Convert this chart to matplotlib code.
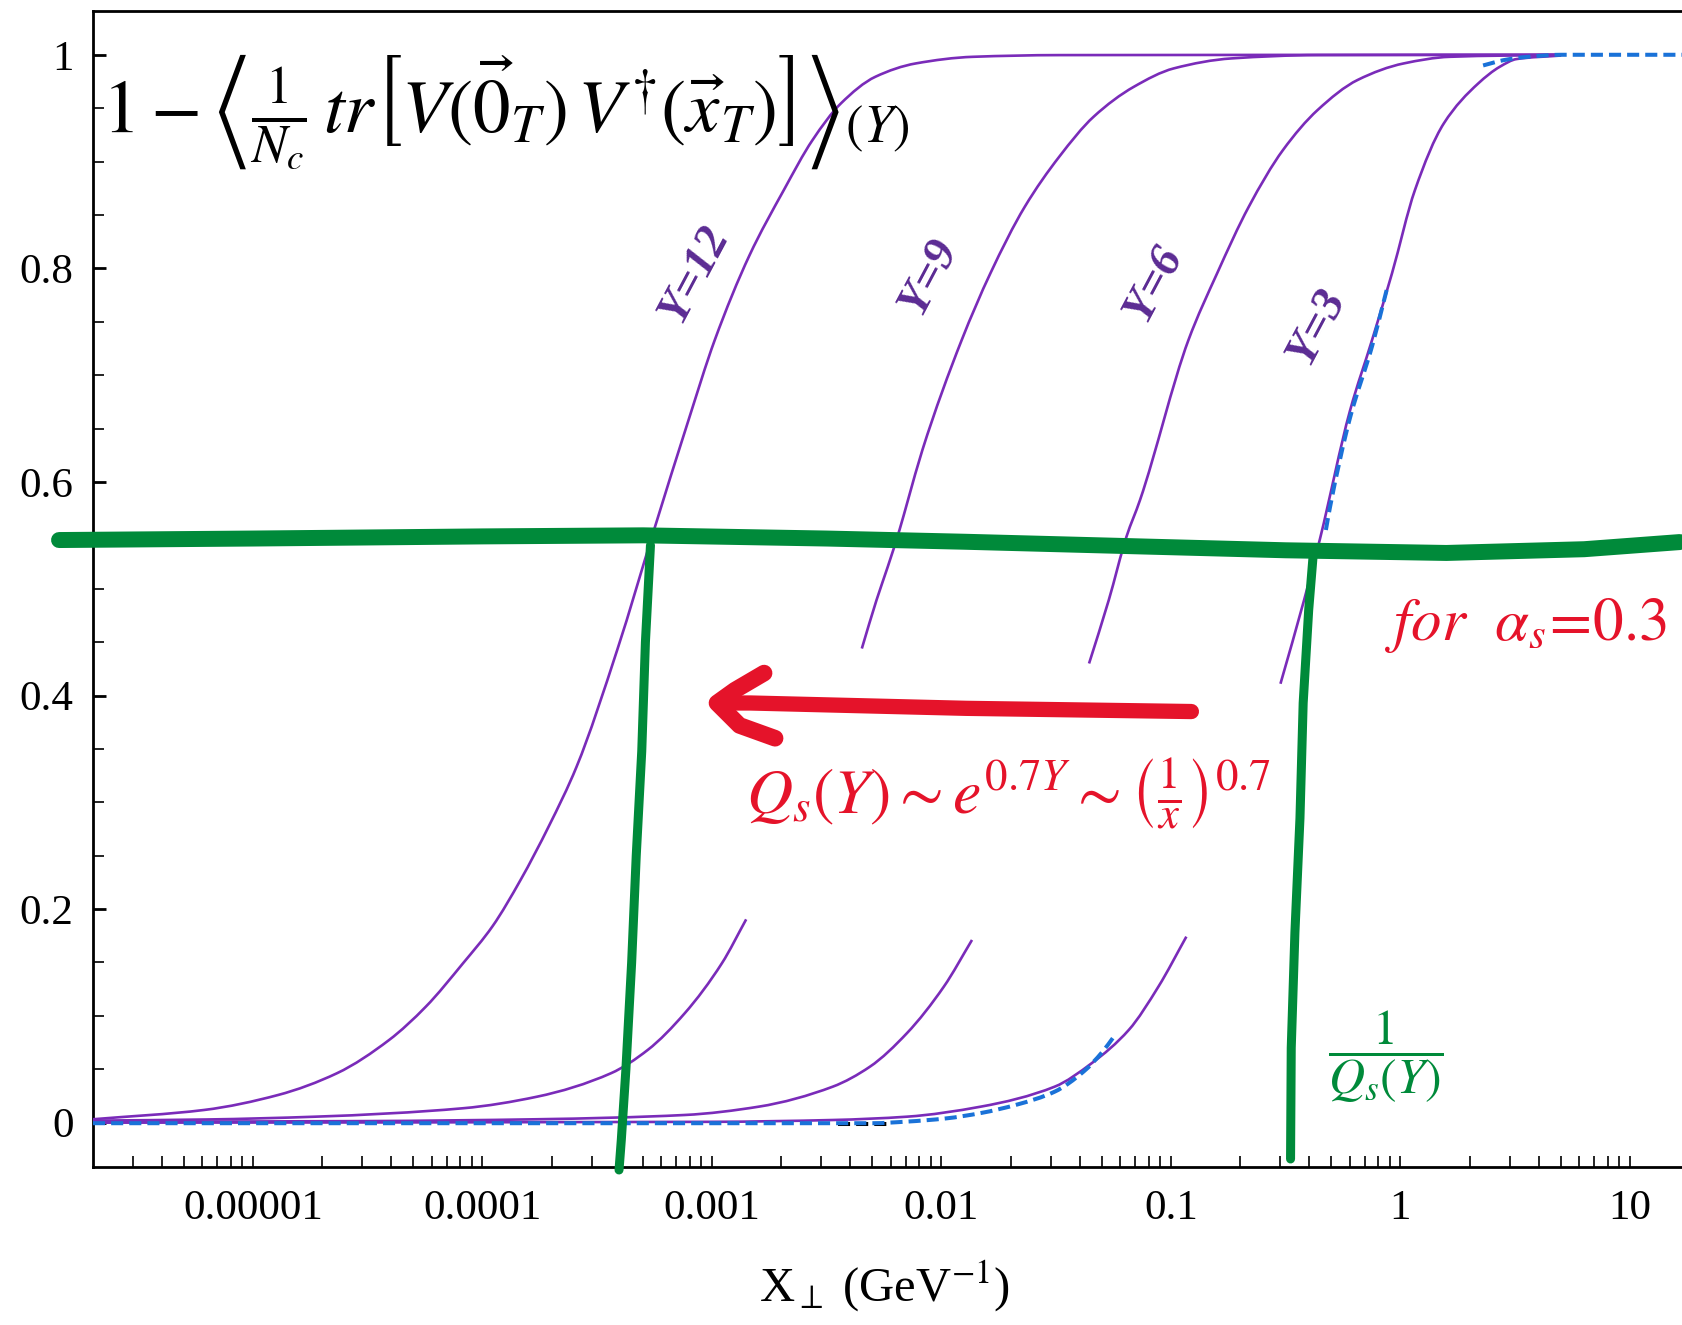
import numpy as np
import matplotlib
matplotlib.use("Agg")
import matplotlib.pyplot as plt
from matplotlib.path import Path
from matplotlib.patches import PathPatch
from matplotlib.ticker import FixedLocator, FixedFormatter, LogLocator, MultipleLocator, NullFormatter

plt.rcParams['font.family'] = ['Liberation Serif', 'DejaVu Serif']
plt.rcParams['mathtext.fontset'] = 'stix'

# ---------------- data ----------------
x_tick_values = [1e-5, 1e-4, 1e-3, 1e-2, 1e-1, 1, 10]
x_tick_labels = ["0.00001", "0.0001", "0.001", "0.01", "0.1", "1", "10"]
y_tick_values = [0, 0.2, 0.4, 0.6, 0.8, 1]
y_tick_labels = ["0", "0.2", "0.4", "0.6", "0.8", "1"]

# log10(x_perp) and dipole amplitude values per rapidity curve
y12_logx = [-5.697, -5.213, -4.891, -4.634, -4.407, -4.247, -4.085, -3.956, -3.834, -3.71,
            -3.590, -3.413, -3.250, -3.105, -2.988, -2.837, -2.687, -2.562, -2.438, -2.288,
            -2.112, -1.863, -1.488, 0.70]
y12_val = [0.0032, 0.0119, 0.0259, 0.0463, 0.0774, 0.1086, 0.1492, 0.184, 0.2273, 0.278,
           0.3333, 0.4426, 0.5568, 0.6560, 0.7328, 0.812, 0.8733, 0.9201, 0.9545, 0.9794,
           0.9919, 0.9981, 0.9997, 1.0]

y9_low_logx = [-5.697, -5.2, -4.730, -4.085, -3.763, -3.440, -3.280, -3.119, -2.957, -2.851]
y9_low_val = [0.0019, 0.003, 0.0056, 0.0135, 0.0243, 0.0463, 0.0681, 0.1024, 0.1492, 0.1904]
y9_up_logx = [-2.347, -2.283, -2.234, -2.183, -2.146, -2.083, -1.912, -1.787, -1.637,
              -1.487, -1.337, -1.162, -0.987, -0.736, -0.361, 0.70]
y9_up_val = [0.444, 0.4894, 0.5206, 0.555, 0.583, 0.630, 0.7328, 0.7953, 0.8577,
             0.9045, 0.9420, 0.9700, 0.9873, 0.9966, 0.9997, 1.0]

y6_low_logx = [-5.697, -4.5, -3.763, -3.119, -2.796, -2.474, -2.312, -2.151, -1.990, -1.867]
y6_low_val = [0.0008, 0.0015, 0.0032, 0.0072, 0.0150, 0.0337, 0.0524, 0.0837, 0.1273, 0.1711]
y6_up_logx = [-1.357, -1.271, -1.194, -1.135, -0.924, -0.799, -0.661, -0.512, -0.361,
              -0.186, 0.014, 0.214, 0.70]
y6_up_val = [0.430, 0.4894, 0.5487, 0.583, 0.7328, 0.7953, 0.8577, 0.9108, 0.9483,
             0.9765, 0.9919, 0.9981, 1.0]

y3_low_logx = [-5.697, -3.0, -2.474, -2.151, -1.829, -1.507, -1.346, -1.184, -1.055, -0.933]
y3_low_val = [0.0, 0.0008, 0.0025, 0.0056, 0.0150, 0.0337, 0.0556, 0.0868, 0.1273, 0.1742]
y3_up_logx = [-0.523, -0.420, -0.351, -0.220, -0.124, -0.037, 0.063, 0.189, 0.339, 0.433,
              0.506, 0.70]
y3_up_val = [0.411, 0.4894, 0.5465, 0.6667, 0.7328, 0.7953, 0.8733, 0.9358, 0.9732, 0.9888,
             0.996, 0.9993]

# blue dashed comparison curve (visible pieces)
fit_a_logx = [-5.697, -2.3, -2.151, -1.98, -1.829, -1.67, -1.507, -1.38, -1.30, -1.249]
fit_a_val = [-0.0005, -0.0005, 0.001, 0.004, 0.009, 0.017, 0.029, 0.048, 0.066, 0.0805]
fit_b_logx = [-0.325, -0.307, -0.22, -0.124, -0.06]
fit_b_val = [0.555, 0.5765, 0.66, 0.727, 0.78]
fit_c_logx = [0.36, 0.45, 0.55, 0.70, 1.25]
fit_c_val = [0.990, 0.995, 0.998, 1.0, 1.0]

# black dashed curve (small visible piece)
blk_logx = [-2.45, -2.22]
blk_val = [-0.001, -0.001]

# ---------------- figure ----------------
PURPLE = '#7a2bb9'
LABEL_PURPLE = '#5b2b93'
BLUE = '#1a72d8'
GREEN = '#008a3a'
RED = '#e5132a'

fig = plt.figure(figsize=(16.83, 13.25), dpi=100)
ax = fig.add_axes([0.05526, 0.11925, 0.94474, 0.87245])
ax.set_xscale('log')
ax.set_xlim(10 ** -5.697, 10 ** 1.231)
ax.set_ylim(-0.0415, 1.041)


def px(lx):
    return 10 ** np.asarray(lx, dtype=float)


def smooth_curve(lx, vv):
    """Monotone cubic (Fritsch-Carlson) Bezier stroke through the read points,
    built in log10(x) space so the log axis maps it exactly."""
    u = np.asarray(lx, float)
    y = np.asarray(vv, float)
    n = len(u)
    h = np.diff(u)
    d = np.diff(y) / h
    m = np.zeros(n)
    m[0], m[-1] = d[0], d[-1]
    for i in range(1, n - 1):
        if d[i - 1] * d[i] <= 0:
            m[i] = 0.0
        else:
            w1 = 2 * h[i] + h[i - 1]
            w2 = h[i] + 2 * h[i - 1]
            m[i] = (w1 + w2) / (w1 / d[i - 1] + w2 / d[i])
    verts = [(u[0], y[0])]
    codes = [Path.MOVETO]
    for i in range(n - 1):
        hh = h[i]
        verts += [(u[i] + hh / 3, y[i] + m[i] * hh / 3),
                  (u[i + 1] - hh / 3, y[i + 1] - m[i + 1] * hh / 3),
                  (u[i + 1], y[i + 1])]
        codes += [Path.CURVE4] * 3
    verts = np.array(verts)
    verts[:, 0] = 10 ** verts[:, 0]
    return Path(verts, codes)


for lx, vv in [(y12_logx, y12_val), (y9_low_logx, y9_low_val), (y9_up_logx, y9_up_val),
               (y6_low_logx, y6_low_val), (y6_up_logx, y6_up_val),
               (y3_low_logx, y3_low_val), (y3_up_logx, y3_up_val)]:
    ax.add_patch(PathPatch(smooth_curve(lx, vv), fill=False, edgecolor=PURPLE, lw=1.9,
                           capstyle='butt', joinstyle='round', zorder=3))

ax.plot(px(blk_logx), blk_val, color='black', lw=2.9, dashes=(3, 1.5), zorder=4)
for lx, vv in [(fit_a_logx, fit_a_val), (fit_b_logx, fit_b_val), (fit_c_logx, fit_c_val)]:
    ax.add_patch(PathPatch(smooth_curve(lx, vv), fill=False, edgecolor=BLUE, lw=2.9,
                           linestyle=(0, (3, 1.5)), zorder=4))

# ---------------- axes styling ----------------
ax.spines['right'].set_visible(False)
for s in ['left', 'bottom', 'top']:
    ax.spines[s].set_linewidth(2.0)
ax.xaxis.set_major_locator(FixedLocator(x_tick_values))
ax.xaxis.set_major_formatter(FixedFormatter(x_tick_labels))
ax.xaxis.set_minor_locator(LogLocator(base=10, subs=np.arange(2, 10), numticks=30))
ax.xaxis.set_minor_formatter(NullFormatter())
ax.yaxis.set_major_locator(FixedLocator(y_tick_values))
ax.yaxis.set_major_formatter(FixedFormatter(y_tick_labels))
ax.yaxis.set_minor_locator(MultipleLocator(0.05))
ax.tick_params(axis='both', which='both', direction='in', top=False, right=False)
ax.tick_params(axis='x', which='both', length=8, width=1.2, pad=16, labelsize=31)
ax.tick_params(axis='y', which='major', length=9, width=2.0, pad=14, labelsize=31)
ax.tick_params(axis='y', which='minor', length=8, width=1.2)

ax.set_xlabel(r'X$_{\perp}$ (GeV$^{\mathrm{-1}}$)', fontsize=35)
ax.xaxis.set_label_coords(0.498, -0.103)
ax.xaxis.label.set_va('center')

# ---------------- hand-drawn annotations ----------------
# green saturation line
ax.plot(px([-5.845, -5.0, -4.0, -3.3, -2.5, -1.9, -1.2, -0.5, 0.2, 0.8, 1.217]),
        [0.5456, 0.5470, 0.5490, 0.5500, 0.5470, 0.5440, 0.5400, 0.5360, 0.5335, 0.5370, 0.5437],
        color=GREEN, lw=11.5, solid_capstyle='round', solid_joinstyle='round',
        clip_on=False, zorder=6)
ax.plot(px([-3.268, -3.290, -3.306, -3.330, -3.350, -3.375, -3.395, -3.405]),
        [0.5407, 0.45, 0.3478, 0.25, 0.15, 0.05, -0.016, -0.0443],
        color=GREEN, lw=6.5, solid_capstyle='round', solid_joinstyle='round',
        clip_on=False, zorder=6)
ax.plot(px([-0.381, -0.400, -0.424, -0.438, -0.460, -0.476, -0.479]),
        [0.53, 0.48, 0.393, 0.285, 0.178, 0.070, -0.034],
        color=GREEN, lw=6.5, solid_capstyle='round', solid_joinstyle='round',
        clip_on=False, zorder=6)

# red arrow
ax.plot(px([-0.911, -1.893, -2.832, -2.978]), [0.385, 0.388, 0.393, 0.393],
        color=RED, lw=11, solid_capstyle='round', zorder=7)
ax.plot(px([-2.773, -2.90, -2.978, -2.88, -2.725]), [0.421, 0.405, 0.393, 0.372, 0.360],
        color=RED, lw=12, solid_capstyle='round', solid_joinstyle='round', zorder=7)

ax.text(0.0057, 0.912,
        r'$1-\left\langle \frac{1}{N_c}\,tr\left[V(\vec{0}_T)\,V^{\dagger}(\vec{x}_T)\right]\right\rangle_{(Y)}$',
        transform=ax.transAxes, fontsize=54, color='black', ha='left', va='center', zorder=8)
ax.text(0.576, 0.3227, r'$Q_s(Y)\sim e^{0.7Y}\sim\left(\frac{1}{x}\right)^{0.7}$',
        transform=ax.transAxes, fontsize=46, color=RED, ha='center', va='center', zorder=8)
ax.text(0.9013, 0.468, r'$for\ \ \alpha_s\!=\!0.3$',
        transform=ax.transAxes, fontsize=44, color=RED, ha='center', va='center', zorder=8)
ax.text(0.8126, 0.0952, r'$\dfrac{1}{Q_s(Y)}$',
        transform=ax.transAxes, fontsize=36, color=GREEN, ha='center', va='center', zorder=8)

for lab, xa, ya in [('Y=12', 0.3786, 0.7725), ('Y=9', 0.5258, 0.770),
                    ('Y=6', 0.6673, 0.7638), ('Y=3', 0.7704, 0.7266)]:
    ax.text(xa, ya, lab, transform=ax.transAxes, fontsize=34, style='italic',
            fontweight='bold', color=LABEL_PURPLE, rotation=62, ha='center',
            va='center', zorder=8)

fig.savefig('out.png', dpi=100)
